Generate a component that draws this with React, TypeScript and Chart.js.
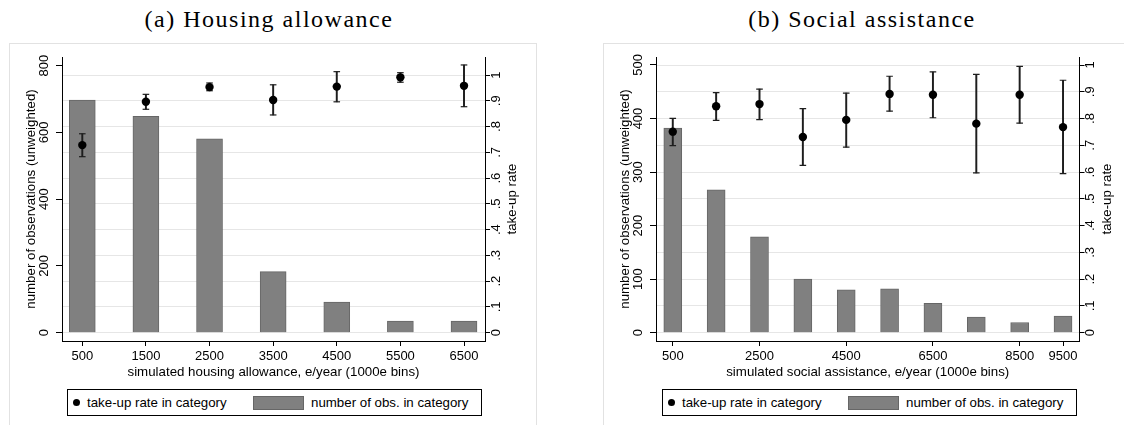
import { useEffect, useRef } from 'react';
import { Chart, registerables } from 'chart.js';

Chart.register(...registerables);

// (a) Housing allowance — 1000e bins
const housingBins = [500, 1500, 2500, 3500, 4500, 5500, 6500];
const housingCounts = [697, 648, 581, 183, 92, 35, 35];
const housingRate = [0.728, 0.896, 0.953, 0.903, 0.955, 0.991, 0.958];
const housingLo = [0.683, 0.867, 0.939, 0.845, 0.896, 0.972, 0.877];
const housingHi = [0.772, 0.925, 0.969, 0.962, 1.013, 1.009, 1.039];
const housingXTicks = [500, 1500, 2500, 3500, 4500, 5500, 6500];
const housingCountTicks = [0, 200, 400, 600, 800];

// (b) Social assistance — 1000e bins
const assistBins = [500, 1500, 2500, 3500, 4500, 5500, 6500, 7500, 8500, 9500];
const assistCounts = [382, 267, 179, 100, 80, 82, 55, 29, 19, 31];
const assistRate = [0.751, 0.846, 0.854, 0.731, 0.795, 0.892, 0.889, 0.781, 0.889, 0.768];
const assistLo = [0.699, 0.793, 0.796, 0.625, 0.693, 0.828, 0.803, 0.597, 0.783, 0.594];
const assistHi = [0.801, 0.897, 0.91, 0.837, 0.895, 0.958, 0.974, 0.965, 0.995, 0.943];
const assistXTicks = [500, 2500, 4500, 6500, 8500, 9500];
const assistCountTicks = [0, 100, 200, 300, 400, 500];

const rateTicks = [0, 0.1, 0.2, 0.3, 0.4, 0.5, 0.6, 0.7, 0.8, 0.9, 1];

const SANS = "'Liberation Sans', Arial, sans-serif";
const SERIF = "'Liberation Serif', 'Times New Roman', serif";
const BAR_FILL = '#808080';
const BAR_EDGE = '#666666';
const CI_COLOR = '#1e1e1e';

const fmtRate = (v: number) => (v === 0 ? '0' : v === 1 ? '1' : '.' + Math.round(v * 10));

// right-hand axis title, reading bottom to top
const rightTitlePlugin = {
  id: 'rightTitle',
  afterDraw(chart: any, _args: any, opts: any) {
    const s = chart.scales.y2;
    const ctx = chart.ctx;
    ctx.save();
    ctx.font = `13.3px ${SANS}`;
    ctx.fillStyle = '#000';
    ctx.translate(opts.x, (s.top + s.bottom) / 2);
    ctx.rotate(-Math.PI / 2);
    ctx.textAlign = 'center';
    ctx.textBaseline = 'middle';
    ctx.fillText(opts.text, 0, 0);
    ctx.restore();
  },
};

type PanelProps = {
  left: number;
  width: number;
  bins: number[];
  counts: number[];
  rate: number[];
  lo: number[];
  hi: number[];
  xTicks: number[];
  countTicks: number[];
  xMin: number;
  xMax: number;
  cMin: number;
  cMax: number;
  rMin: number;
  rMax: number;
  barWidth: number;
  rightW: number;
  xTitle: string;
};

const CANVAS_TOP = 43;
const CANVAS_H = 342;

function Panel(p: PanelProps) {
  const ref = useRef<HTMLCanvasElement | null>(null);

  useEffect(() => {
    if (!ref.current) return;
    const tickFont = { family: SANS, size: 13 };
    const titleFont = { family: SANS, size: 13.3 };
    const chart = new Chart(ref.current, {
      type: 'bar',
      data: {
        datasets: [
          {
            type: 'scatter',
            label: 'take-up rate in category',
            data: p.bins.map((x, i) => ({ x, y: p.rate[i] })),
            yAxisID: 'y2',
            pointStyle: 'circle',
            pointRadius: 4.2,
            backgroundColor: '#000',
            borderColor: '#000',
            borderWidth: 0,
            order: 0,
          } as any,
          {
            type: 'scatter',
            label: 'ci caps',
            data: p.bins.flatMap((x, i) => [
              { x, y: p.lo[i] },
              { x, y: p.hi[i] },
            ]),
            yAxisID: 'y2',
            pointStyle: 'line',
            pointRadius: 3.3,
            borderColor: CI_COLOR,
            borderWidth: 1.2,
            order: 1,
          } as any,
          {
            type: 'bar',
            label: 'ci',
            data: p.bins.map((x, i) => ({ x, y: [p.lo[i], p.hi[i]] })),
            yAxisID: 'y2',
            barThickness: 1.3,
            backgroundColor: CI_COLOR,
            grouped: false,
            order: 2,
          } as any,
          {
            type: 'bar',
            label: 'number of obs. in category',
            data: p.bins.map((x, i) => ({ x, y: p.counts[i] })),
            yAxisID: 'y',
            barThickness: p.barWidth,
            backgroundColor: BAR_FILL,
            borderColor: BAR_EDGE,
            borderWidth: 1,
            grouped: false,
            order: 3,
          } as any,
        ],
      },
      options: {
        responsive: false,
        maintainAspectRatio: false,
        animation: false,
        events: [],
        layout: { padding: { left: 0, right: 0, top: 14, bottom: 0 } },
        plugins: {
          legend: { display: false },
          tooltip: { enabled: false },
          title: { display: false },
          rightTitle: { x: p.width - p.rightW + 27.7, text: 'take-up rate' },
        } as any,
        scales: {
          x: {
            type: 'linear',
            position: 'bottom',
            min: p.xMin,
            max: p.xMax,
            offset: false,
            afterBuildTicks: (s: any) => {
              s.ticks = p.xTicks.map((v) => ({ value: v }));
            },
            afterFit: (s: any) => {
              s.height = 44;
            },
            grid: { drawOnChartArea: false, drawTicks: true, tickLength: 5, tickColor: '#000', offset: false },
            border: { display: true, color: '#000', width: 1 },
            ticks: {
              font: tickFont,
              color: '#000',
              padding: 3,
              minRotation: 0,
              maxRotation: 0,
              autoSkip: false,
              callback: (v: any) => String(v),
            },
            title: {
              display: true,
              text: p.xTitle,
              font: titleFont,
              color: '#000',
              padding: { top: 0, bottom: 5 },
            },
          } as any,
          y: {
            type: 'linear',
            position: 'left',
            min: p.cMin,
            max: p.cMax,
            afterBuildTicks: (s: any) => {
              s.ticks = p.countTicks.map((v) => ({ value: v }));
            },
            afterFit: (s: any) => {
              s.width = 53;
            },
            grid: { drawOnChartArea: false, drawTicks: true, tickLength: 6, tickColor: '#000' },
            border: { display: true, color: '#000', width: 1 },
            ticks: {
              font: tickFont,
              color: '#000',
              minRotation: 90,
              maxRotation: 90,
              crossAlign: 'center',
              padding: 0.5,
              autoSkip: false,
              callback: (v: any) => String(v),
            },
            title: {
              display: true,
              text: 'number of observations (unweighted)',
              font: titleFont,
              color: '#000',
              padding: { top: 14.7, bottom: 0 },
            },
          } as any,
          y2: {
            type: 'linear',
            position: 'right',
            min: p.rMin,
            max: p.rMax,
            afterBuildTicks: (s: any) => {
              s.ticks = rateTicks.map((v) => ({ value: v }));
            },
            afterFit: (s: any) => {
              s.width = p.rightW;
            },
            grid: {
              drawOnChartArea: true,
              drawTicks: true,
              color: '#e6e6e6',
              lineWidth: 1,
              tickLength: 5,
              tickColor: '#000',
            },
            border: { display: true, color: '#000', width: 1 },
            ticks: {
              font: tickFont,
              color: '#000',
              minRotation: 90,
              maxRotation: 90,
              crossAlign: 'center',
              padding: 0.6,
              autoSkip: false,
              callback: (v: any) => fmtRate(Number(v)),
            },
            title: { display: false },
          } as any,
        },
      },
      plugins: [rightTitlePlugin],
    });
    return () => chart.destroy();
  }, [p]);

  return (
    <canvas
      ref={ref}
      width={p.width}
      height={CANVAS_H}
      style={{ position: 'absolute', left: p.left, top: CANVAS_TOP, width: p.width, height: CANVAS_H }}
    />
  );
}

function Legend({ left }: { left: number }) {
  const txt: any = {
    position: 'absolute',
    top: 0,
    height: '100%',
    display: 'flex',
    alignItems: 'center',
    fontFamily: SANS,
    fontSize: 13.3,
    color: '#000',
    whiteSpace: 'nowrap',
  };
  return (
    <div
      style={{
        position: 'absolute',
        left,
        top: 388.5,
        width: 415,
        height: 27.5,
        border: '1px solid #000',
        boxSizing: 'border-box',
        background: '#fff',
      }}
    >
      <div
        style={{
          position: 'absolute',
          left: 5,
          top: 9.5,
          width: 7,
          height: 7,
          borderRadius: '50%',
          background: '#000',
        }}
      />
      <div style={{ ...txt, left: 19 }}>take-up rate in category</div>
      <div
        style={{
          position: 'absolute',
          left: 185,
          top: 6,
          width: 51,
          height: 14,
          background: BAR_FILL,
          border: `1px solid ${BAR_EDGE}`,
          boxSizing: 'border-box',
        }}
      />
      <div style={{ ...txt, left: 243 }}>number of obs. in category</div>
    </div>
  );
}

function Title({ cx, text }: { cx: number; text: string }) {
  return (
    <div
      style={{
        position: 'absolute',
        left: cx - 200,
        top: 7,
        width: 400,
        textAlign: 'center',
        fontFamily: SERIF,
        fontSize: 24,
        lineHeight: '24px',
        letterSpacing: '1.5px',
        color: '#000',
        whiteSpace: 'nowrap',
      }}
    >
      {text}
    </div>
  );
}

const housingProps: PanelProps = {
  left: 9,
  width: 529,
  bins: housingBins,
  counts: housingCounts,
  rate: housingRate,
  lo: housingLo,
  hi: housingHi,
  xTicks: housingXTicks,
  countTicks: housingCountTicks,
  xMin: 181,
  xMax: 6830,
  cMin: -24.9,
  cMax: 826.1,
  rMin: -0.0322,
  rMax: 1.0699,
  barWidth: 26,
  rightW: 53,
  xTitle: 'simulated housing allowance, e/year (1000e bins)',
};

const assistProps: PanelProps = {
  left: 603,
  width: 521,
  bins: assistBins,
  counts: assistCounts,
  rate: assistRate,
  lo: assistLo,
  hi: assistHi,
  xTicks: assistXTicks,
  countTicks: assistCountTicks,
  xMin: 113,
  xMax: 9880,
  cMin: -15.5,
  cMax: 514.9,
  rMin: -0.031,
  rMax: 1.0299,
  barWidth: 18,
  rightW: 44.5,
  xTitle: 'simulated social assistance, e/year (1000e bins)',
};

export default function App() {
  return (
    <div
      style={{
        position: 'absolute',
        left: 0,
        top: 0,
        width: 1124,
        height: 425,
        overflow: 'hidden',
        background: '#fff',
      }}
    >
      <Title cx={269} text="(a) Housing allowance" />
      <Title cx={862} text="(b) Social assistance" />
      <div
        style={{
          position: 'absolute',
          left: 9,
          top: 43,
          width: 528,
          height: 400,
          border: '1px solid #e2e2e2',
          boxSizing: 'border-box',
        }}
      />
      <div
        style={{
          position: 'absolute',
          left: 603,
          top: 43,
          width: 540,
          height: 400,
          border: '1px solid #e2e2e2',
          boxSizing: 'border-box',
        }}
      />
      <Panel {...housingProps} />
      <Panel {...assistProps} />
      <Legend left={67} />
      <Legend left={662} />
    </div>
  );
}
